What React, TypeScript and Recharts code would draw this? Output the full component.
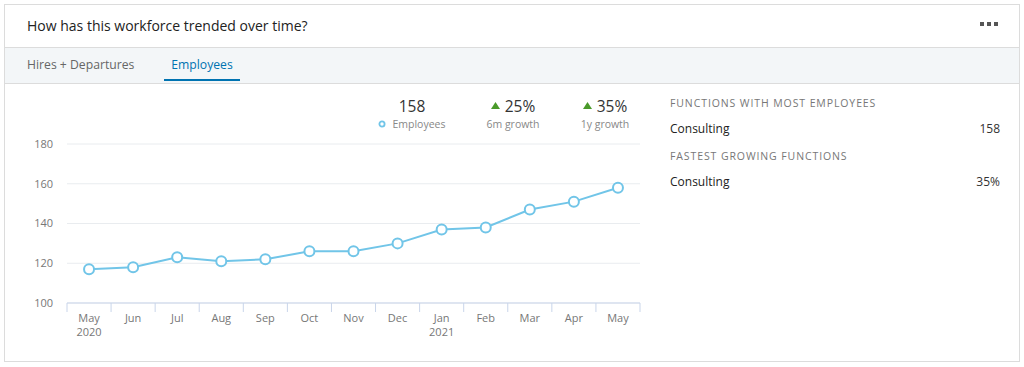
import { LineChart, Line, XAxis, YAxis, CartesianGrid } from 'recharts'

const months = ['May', 'Jun', 'Jul', 'Aug', 'Sep', 'Oct', 'Nov', 'Dec', 'Jan', 'Feb', 'Mar', 'Apr', 'May']
const years = ['2020', '', '', '', '', '', '', '', '2021', '', '', '', '']
const employees = [117, 118, 123, 121, 122, 126, 126, 130, 137, 138, 147, 151, 158]
const yTicks = [100, 120, 140, 160, 180]

const tabs = ['Hires + Departures', 'Employees']
const headline = [
  { value: '158', label: 'Employees', kind: 'legend' },
  { value: '25%', label: '6m growth', kind: 'up' },
  { value: '35%', label: '1y growth', kind: 'up' },
]
const sideSections = [
  { title: 'FUNCTIONS WITH MOST EMPLOYEES', name: 'Consulting', value: '158' },
  { title: 'FASTEST GROWING FUNCTIONS', name: 'Consulting', value: '35%' },
]

const data = months.map((m, i) => ({ month: m, year: years[i], employees: employees[i], idx: i }))

const FONT = '"Open Sans", "Noto Sans", sans-serif'
const LINE = '#71c5e8'
const AXIS = '#c9d5ea'

const CHART_W = 640
const CHART_H = 215
const MARGIN = { top: 10, right: 20, bottom: 0, left: 0 }
const Y_W = 47
const X_H = 46
const AXIS_Y = CHART_H - MARGIN.bottom - X_H
const BAND = (CHART_W - MARGIN.left - MARGIN.right - Y_W) / months.length

function MonthTick(props: any) {
  const { x, payload, index } = props
  const left = x - BAND / 2
  const right = x + BAND / 2
  return (
    <g>
      <line x1={left} x2={left} y1={AXIS_Y} y2={AXIS_Y + 9} stroke={AXIS} />
      {index === months.length - 1 && (
        <line x1={right} x2={right} y1={AXIS_Y} y2={AXIS_Y + 9} stroke={AXIS} />
      )}
      <text x={x} y={AXIS_Y + 19} textAnchor="middle" fontSize={11} fill="#777" fontFamily={FONT}>
        {months[payload.value]}
      </text>
      {years[payload.value] && (
        <text x={x} y={AXIS_Y + 33} textAnchor="middle" fontSize={11} fill="#777" fontFamily={FONT}>
          {years[payload.value]}
        </text>
      )}
    </g>
  )
}

function Up() {
  return (
    <svg width={9} height={7} style={{ marginRight: 5, verticalAlign: 'middle', position: 'relative', top: -2 }}>
      <polygon points="0,7 4.5,0 9,7" fill="#4a9a2a" />
    </svg>
  )
}

export default function App() {
  return (
    <div style={{ position: 'absolute', left: 0, top: 0, width: 1024, height: 367, background: '#fff', fontFamily: FONT }}>
      <div
        style={{
          position: 'absolute',
          left: 4,
          top: 4,
          width: 1014,
          height: 356,
          border: '1px solid #dcdcdc',
          background: '#fff',
        }}
      >
        <div style={{ position: 'absolute', left: 22, top: 11, fontSize: 14, color: '#222' }}>
          How has this workforce trended over time?
        </div>
        <div style={{ position: 'absolute', left: 975, top: 17, display: 'flex', gap: 3 }}>
          {[0, 1, 2].map((d) => (
            <div key={d} style={{ width: 4, height: 4, background: '#555' }} />
          ))}
        </div>
        <div
          style={{
            position: 'absolute',
            left: 0,
            top: 42,
            width: 1014,
            height: 35,
            background: '#f3f6f8',
            borderTop: '1px solid #dcdcdc',
            borderBottom: '1px solid #dcdcdc',
          }}
        >
          <div style={{ position: 'absolute', left: 22, top: 8, fontSize: 12.2, color: '#666' }}>{tabs[0]}</div>
          <div
            style={{
              position: 'absolute',
              left: 159,
              top: 8,
              width: 76,
              height: 25,
              textAlign: 'center',
              fontSize: 12.2,
              color: '#0073b1',
              borderBottom: '2px solid #0073b1',
              boxSizing: 'border-box',
            }}
          >
            {tabs[1]}
          </div>
        </div>
      </div>

      {headline.map((h, i) => {
        const cx = [412, 513, 605][i]
        return (
          <div key={i} style={{ position: 'absolute', left: cx - 60, width: 120, top: 96, textAlign: 'center' }}>
            <div style={{ fontSize: 15.5, color: '#333', lineHeight: '20px' }}>
              {h.kind === 'up' && <Up />}
              {h.value}
            </div>
            <div style={{ fontSize: 10.5, color: '#888', lineHeight: '16px' }}>
              {h.kind === 'legend' && (
                <svg width={8} height={8} style={{ marginRight: 6, verticalAlign: 'middle', position: 'relative', top: -1 }}>
                  <circle cx={4} cy={4} r={2.6} fill="#fff" stroke={LINE} strokeWidth={1.8} />
                </svg>
              )}
              {h.label}
            </div>
          </div>
        )
      })}

      {sideSections.map((s, i) => (
        <div key={i} style={{ position: 'absolute', left: 670, top: 96 + i * 53, width: 330 }}>
          <div style={{ fontSize: 10.5, letterSpacing: 0.9, color: '#777', lineHeight: '14px' }}>{s.title}</div>
          <div style={{ display: 'flex', justifyContent: 'space-between', marginTop: 10, fontSize: 12, color: '#222' }}>
            <span>{s.name}</span>
            <span style={{ color: '#333' }}>{s.value}</span>
          </div>
        </div>
      ))}

      <div style={{ position: 'absolute', left: 20, top: 134 }}>
        <LineChart width={CHART_W} height={CHART_H} data={data} margin={MARGIN}>
          <CartesianGrid vertical={false} stroke="#e9ecef" />
          <XAxis
            dataKey="idx"
            type="category"
            height={X_H}
            axisLine={{ stroke: AXIS }}
            tickLine={false}
            tick={<MonthTick />}
            interval={0}
            padding={{ left: BAND / 2, right: BAND / 2 }}
          />
          <YAxis
            domain={[100, 180]}
            ticks={yTicks}
            width={Y_W}
            axisLine={false}
            tickLine={false}
            tickMargin={8}
            tick={{ fontSize: 11, fill: '#777', fontFamily: FONT }}
          />
          <Line
            type="linear"
            dataKey="employees"
            stroke={LINE}
            strokeWidth={2}
            dot={{ r: 5, fill: '#fff', stroke: LINE, strokeWidth: 2 }}
            isAnimationActive={false}
          />
        </LineChart>
      </div>
    </div>
  )
}
